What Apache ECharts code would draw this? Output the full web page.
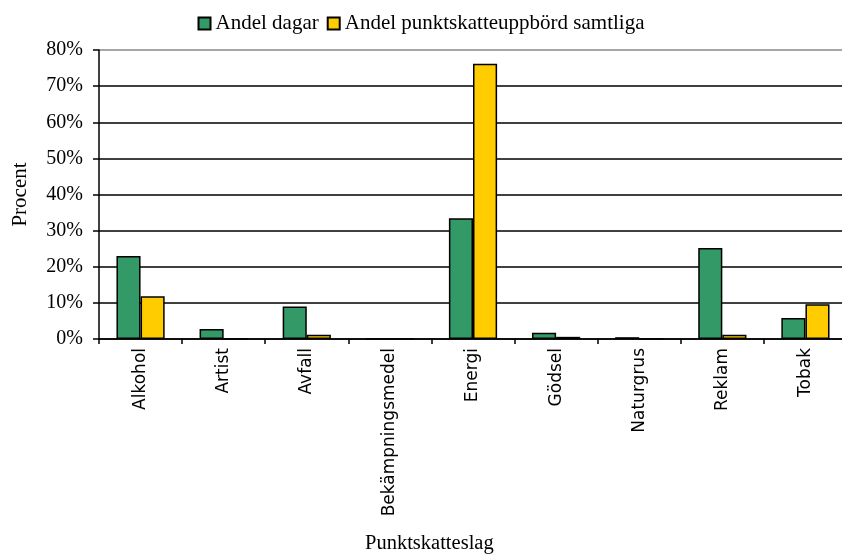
<!DOCTYPE html>
<html>
<head>
<meta charset="utf-8">
<script src="https://cdn.jsdelivr.net/npm/echarts@6/dist/echarts.min.js"></script>
<style>
  html, body { margin: 0; padding: 0; background: #fff; }
  #chart { width: 842px; height: 555px; }
</style>
</head>
<body>
<div id="chart"></div>
<script>
const categories = ['Alkohol', 'Artist', 'Avfall', 'Bekämpningsmedel', 'Energi', 'Gödsel', 'Naturgrus', 'Reklam', 'Tobak']
const andelDagar = [23.0, 2.8, 9.0, 0, 33.4, 1.7, 0.5, 25.2, 5.8]
const andelUppbord = [11.8, 0, 1.2, 0, 76.2, 0.6, 0, 1.2, 9.6]
const seriesNames = ['Andel dagar', 'Andel punktskatteuppbörd samtliga']

const serif = "'Liberation Serif', 'DejaVu Serif', serif"
const sans = "'DejaVu Sans', sans-serif"

const chart = echarts.init(document.getElementById('chart'))

const option = {
  animation: false,
  legend: {
    top: 8,
    left: 'center',
    icon: 'rect',
    itemWidth: 12,
    itemHeight: 12,
    itemGap: 8,
    textStyle: { fontFamily: serif, fontSize: 21, color: '#000' },
    data: seriesNames
  },
  grid: {
    left: 99,
    top: 50,
    width: 748,
    bottom: 216,
    outerBoundsMode: 'none'
  },
  graphic: [
    {
      type: 'text',
      left: 365,
      top: 533,
      style: { text: 'Punktskatteslag', fontFamily: serif, fontSize: 20.5, fill: '#000' }
    }
  ],
  xAxis: {
    type: 'category',
    data: categories,
    axisLine: { lineStyle: { color: '#000', width: 1.5 } },
    axisTick: { show: true, length: 5, lineStyle: { color: '#000', width: 1.5 } },
    axisLabel: {
      rotate: 90,
      interval: 0,
      margin: 9,
      fontFamily: sans,
      fontSize: 17,
      color: '#000'
    }
  },
  yAxis: {
    type: 'value',
    min: 0,
    max: 80,
    interval: 10,
    name: 'Procent',
    nameLocation: 'middle',
    nameGap: 68,
    nameRotate: 90,
    nameTextStyle: { fontFamily: serif, fontSize: 21, color: '#000' },
    axisLine: { show: true, lineStyle: { color: '#000', width: 1.5 } },
    axisTick: { show: true, inside: false, length: 6, lineStyle: { color: '#000', width: 1.5 } },
    axisLabel: {
      formatter: '{value}%',
      margin: 16,
      fontFamily: serif,
      fontSize: 20,
      color: '#000'
    },
    splitLine: {
      show: true,
      lineStyle: {
        color: ['#000', '#000', '#000', '#000', '#000', '#000', '#000', '#000', '#888'],
        width: 1.5
      }
    }
  },
  series: [
    {
      name: seriesNames[0],
      type: 'bar',
      data: andelDagar,
      barGap: '0%',
      barCategoryGap: '42%',
      itemStyle: { color: '#339966', borderColor: '#000', borderWidth: 1.5 }
    },
    {
      name: seriesNames[1],
      type: 'bar',
      data: andelUppbord,
      itemStyle: { color: '#FFCC00', borderColor: '#000', borderWidth: 1.5 }
    }
  ]
}

chart.setOption(option)
</script>
</body>
</html>
